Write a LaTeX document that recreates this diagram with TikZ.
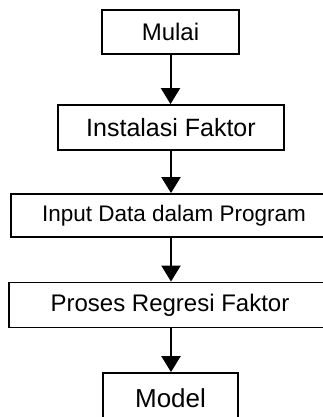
\documentclass[tikz,border=0pt]{standalone}
\usepackage{fontspec}
\setmainfont{Liberation Sans}
\usepackage{tikz}
\usetikzlibrary{positioning,arrows.meta}
\tikzset{
  stepbox/.style = {draw=black, line width=1.8pt, fill=white, inner sep=0pt,
                    font=\fontsize{24}{28}\selectfont, anchor=center},
  flow/.style    = {-{Triangle[length=16pt,width=19pt]}, draw=black, line width=2pt},
}

\begin{document}
\begin{tikzpicture}[x=1pt,y=1pt]
  \useasboundingbox (0,0) rectangle (323,417);
  \clip (0,0) rectangle (323,417);

  % boxes, top to bottom
  \node[stepbox, minimum width=137, minimum height=44] (mulai) at (170.5,385) {Mulai};
  \node[stepbox, minimum width=226, minimum height=45, font=\fontsize{25}{29}\selectfont] (instal) at (171,289.5) {Instalasi Faktor};
  \node[stepbox, minimum width=326, minimum height=43, font=\fontsize{22.5}{27}\selectfont] (input) at (174,201.5) {Input Data dalam Program};
  \node[stepbox, minimum width=322, minimum height=45] (proses) at (170,112) {Proses Regresi Faktor};
  \node[stepbox, minimum width=135, minimum height=50, font=\fontsize{26}{30}\selectfont] (model) at (170.5,19) {Model};

  % arrows
  \draw[flow] (mulai.south) -- (mulai.south |- instal.north);
  \draw[flow] (instal.south) -- (instal.south |- input.north);
  \draw[flow] (instal.south |- input.south) -- (instal.south |- proses.north);
  \draw[flow] (instal.south |- proses.south) -- (instal.south |- model.north);
\end{tikzpicture}
\end{document}
